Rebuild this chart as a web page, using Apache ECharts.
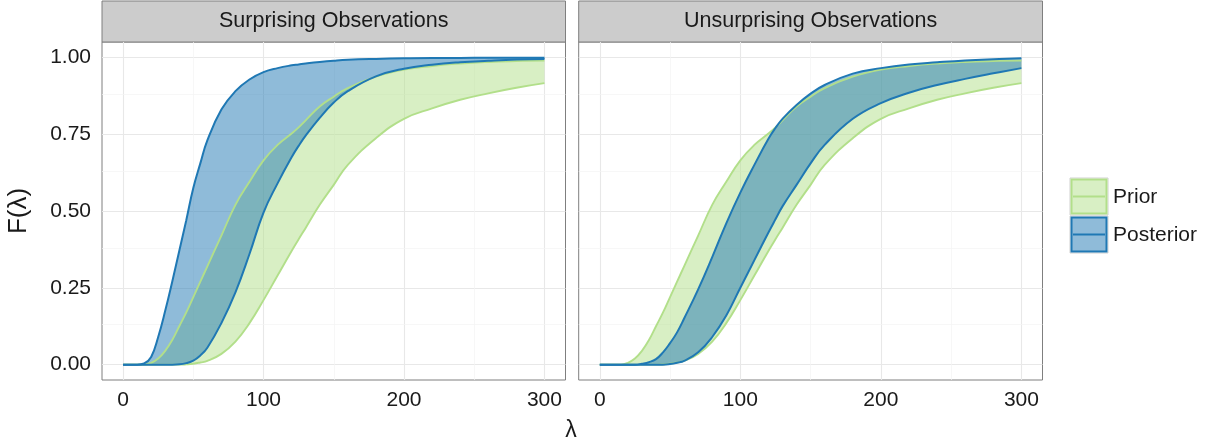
<!DOCTYPE html>
<html>
<head>
<meta charset="utf-8">
<script src="https://cdn.jsdelivr.net/npm/echarts@6/dist/echarts.min.js"></script>
<style>
  html, body { margin: 0; padding: 0; background: #fff; }
  #chart { width: 1205px; height: 442px; }
</style>
</head>
<body>
<div id="chart"></div>
<script>
// lambda grid shared by every curve
const lambda = [0, 10, 15, 20, 25, 30, 35, 40, 45, 50, 55, 60, 70, 80, 90, 100, 110, 120, 125, 130, 140, 150, 160, 180, 200, 220, 240, 260, 280, 300];

// prior band (same in both panels)
const priorLow  = [0, 0, 0, 0, 0, 0, 0, 0, 0.001, 0.003, 0.007, 0.012, 0.035, 0.075, 0.135, 0.21, 0.29, 0.37, 0.408, 0.445, 0.52, 0.585, 0.65, 0.737, 0.80, 0.834, 0.862, 0.883, 0.901, 0.916];
const priorHigh = [0, 0, 0, 0.006, 0.02, 0.045, 0.08, 0.125, 0.17, 0.22, 0.27, 0.32, 0.42, 0.52, 0.595, 0.665, 0.715, 0.752, 0.772, 0.795, 0.84, 0.872, 0.9, 0.937, 0.96, 0.972, 0.98, 0.985, 0.988, 0.99];

// posterior band, surprising observations
const survPostLow  = [0, 0, 0, 0, 0, 0, 0, 0.001, 0.005, 0.013, 0.03, 0.055, 0.135, 0.235, 0.36, 0.495, 0.59, 0.675, 0.712, 0.745, 0.803, 0.853, 0.89, 0.938, 0.963, 0.976, 0.984, 0.989, 0.993, 0.995];
const survPostHigh = [0, 0, 0.004, 0.025, 0.09, 0.175, 0.27, 0.37, 0.47, 0.575, 0.655, 0.73, 0.83, 0.89, 0.928, 0.952, 0.965, 0.974, 0.977, 0.98, 0.985, 0.989, 0.992, 0.995, 0.997, 0.998, 0.998, 0.999, 0.999, 0.999];

// posterior band, unsurprising observations
const unsPostLow  = [0, 0, 0, 0, 0, 0, 0, 0, 0, 0.002, 0.006, 0.012, 0.04, 0.09, 0.16, 0.25, 0.34, 0.43, 0.473, 0.515, 0.585, 0.655, 0.715, 0.80, 0.851, 0.885, 0.91, 0.93, 0.948, 0.965];
const unsPostHigh = [0, 0, 0, 0, 0, 0.003, 0.008, 0.018, 0.04, 0.07, 0.105, 0.15, 0.245, 0.35, 0.46, 0.56, 0.65, 0.735, 0.77, 0.80, 0.845, 0.882, 0.91, 0.947, 0.965, 0.977, 0.984, 0.99, 0.994, 0.997];

const panelTitles = ['Surprising Observations', 'Unsurprising Observations'];
const xTicks = [0, 100, 200, 300];
const xMinor = [50, 150, 250];
const yTicks = [0, 0.25, 0.5, 0.75, 1];
const yMinor = [0.125, 0.375, 0.625, 0.875];

const PRIOR = '#b2df8a';
const POST = '#1f78b4';
const FONT = '"Liberation Sans", Arial, Helvetica, sans-serif';
const TXT = '#1a1a1a';

const grids = [
  { left: 102, width: 463.5 },
  { left: 578.7, width: 463.8 }
];

const pairs = ys => lambda.map((x, k) => [x, ys[k]]);
// value first so echarts stacks the y dimension (x is picked otherwise on value/value grids)
const flipped = ys => lambda.map((x, k) => [ys[k], x]);
const diff = (hi, lo) => lambda.map((x, k) => [+(hi[k] - lo[k]).toFixed(4), x]);

function gridLines() {
  const major = { color: '#e8e8e8', width: 1.1, type: 'solid' };
  const minor = { color: '#f3f3f3', width: 0.7, type: 'solid' };
  return [].concat(
    xTicks.map(v => ({ xAxis: v, lineStyle: major })),
    yTicks.map(v => ({ yAxis: v, lineStyle: major })),
    xMinor.map(v => ({ xAxis: v, lineStyle: minor })),
    yMinor.map(v => ({ yAxis: v, lineStyle: minor }))
  );
}

function panel(i, postLow, postHigh) {
  const ax = { xAxisIndex: i, yAxisIndex: i, showSymbol: false, smooth: 0.45, silent: true };
  const band = (name, stack, lo, hi, fill) => [
    Object.assign({ type: 'line', name: name + '-base', stack: stack, stackStrategy: 'all', data: flipped(lo),
      encode: { x: 1, y: 0 }, lineStyle: { opacity: 0 }, z: 3 }, ax),
    Object.assign({ type: 'line', name: name + '-band', stack: stack, stackStrategy: 'all', data: diff(hi, lo),
      encode: { x: 1, y: 0 }, lineStyle: { opacity: 0 }, areaStyle: { color: fill, opacity: 1 }, z: 3 }, ax)
  ];
  const line = (ys, color, w, z) => Object.assign({ type: 'line', data: pairs(ys),
    lineStyle: { color: color, width: w }, z: z }, ax);
  return [
    Object.assign({ type: 'line', data: [[0, 0]], lineStyle: { opacity: 0 }, z: 1,
      markLine: { silent: true, z: 1, symbol: 'none', animation: false, label: { show: false }, data: gridLines() } }, ax),
    ...band('prior', 'prior' + i, priorLow, priorHigh, 'rgba(178,223,138,0.5)'),
    ...band('post', 'post' + i, postLow, postHigh, 'rgba(31,120,180,0.5)'),
    line(priorLow, PRIOR, 1.9, 5),
    line(priorHigh, PRIOR, 1.9, 5),
    line(postLow, POST, 2, 6),
    line(postHigh, POST, 2, 6)
  ];
}

const chart = echarts.init(document.getElementById('chart'), null, { renderer: 'canvas' });

const text = (x, y, str, size, extra, align) => Object.assign({
  type: 'text', x: x, y: y, silent: true,
  style: { text: str, fill: TXT, font: size + 'px ' + FONT, align: align || 'center', verticalAlign: 'middle',
    textAlign: align || 'center', textVerticalAlign: 'middle' }
}, extra || {});

const graphics = [];
grids.forEach((g, i) => {
  graphics.push({ type: 'rect', silent: true, shape: { x: g.left, y: 1, width: g.width, height: 41 },
    style: { fill: '#cccccc', stroke: '#7f7f7f', lineWidth: 1 } });
  graphics.push(text(g.left + g.width / 2, 21.5, panelTitles[i], 21.5));
});
graphics.push(text(19, 211, 'F(λ)', 26, { rotation: Math.PI / 2 }));
graphics.push(text(571, 431, 'λ', 23));

// legend keys
[['Prior', PRIOR, 'rgba(178,223,138,0.5)', 178], ['Posterior', POST, 'rgba(31,120,180,0.5)', 216]].forEach(k => {
  graphics.push({ type: 'rect', silent: true, shape: { x: 1070, y: k[3], width: 38, height: 37 },
    style: { fill: '#ffffff', stroke: '#d0d0d0', lineWidth: 1 } });
  graphics.push({ type: 'rect', silent: true, shape: { x: 1071.5, y: k[3] + 1.5, width: 35, height: 34 },
    style: { fill: k[2], stroke: k[1], lineWidth: 2 } });
  graphics.push({ type: 'line', silent: true, shape: { x1: 1073, y1: k[3] + 18.5, x2: 1105, y2: k[3] + 18.5 },
    style: { stroke: k[1], lineWidth: 2 } });
  graphics.push(text(1113, k[3] + 19, k[0], 21, null, 'left'));
});

chart.setOption({
  animation: false,
  backgroundColor: '#ffffff',
  grid: grids.map(g => ({ left: g.left, width: g.width, top: 42, height: 338, show: true,
    borderColor: '#7f7f7f', borderWidth: 1, backgroundColor: '#ffffff', containLabel: false })),
  xAxis: grids.map((g, i) => ({
    gridIndex: i, type: 'value', min: -15, max: 315,
    axisLine: { show: false }, splitLine: { show: false },
    axisTick: { show: true, length: 5, customValues: xTicks, lineStyle: { color: '#333333', width: 1 } },
    axisLabel: { customValues: xTicks, margin: 10, fontSize: 21, color: TXT, fontFamily: FONT }
  })),
  yAxis: grids.map((g, i) => ({
    gridIndex: i, type: 'value', min: -0.05, max: 1.05,
    axisLine: { show: false }, splitLine: { show: false },
    axisTick: { show: i === 0, length: 5, customValues: yTicks, lineStyle: { color: '#333333', width: 1 } },
    axisLabel: { show: i === 0, customValues: yTicks, margin: 11, fontSize: 21, color: TXT, fontFamily: FONT,
      formatter: v => v.toFixed(2) }
  })),
  series: [].concat(panel(0, survPostLow, survPostHigh), panel(1, unsPostLow, unsPostHigh)),
  graphic: { elements: graphics }
});
</script>
</body>
</html>
